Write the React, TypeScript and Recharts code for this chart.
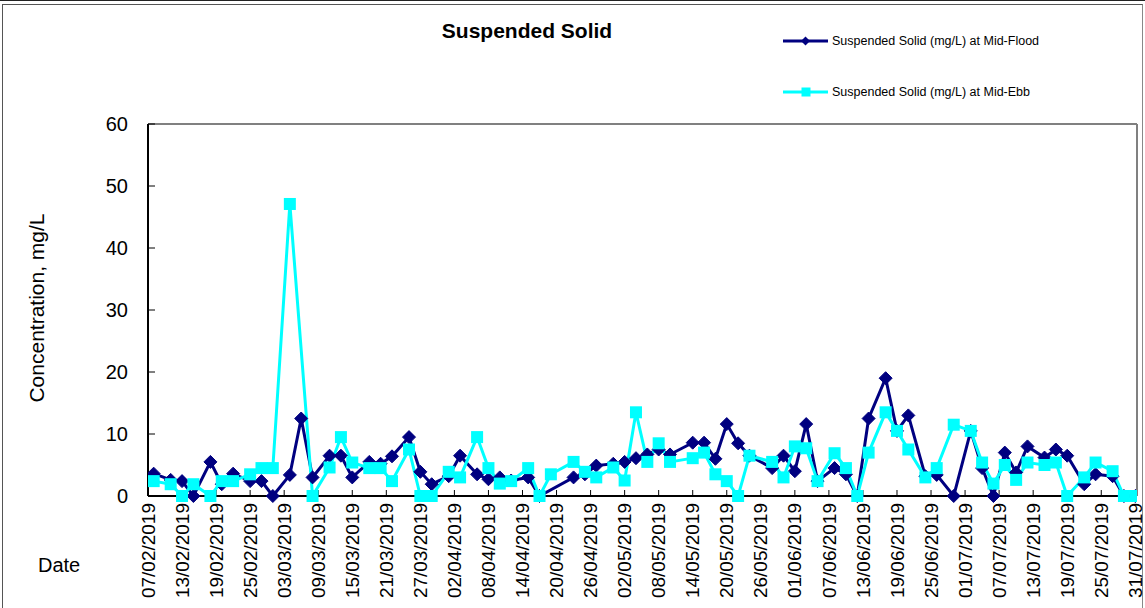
import React from 'react';
import { LineChart, Line, XAxis, YAxis, ReferenceLine } from 'recharts';

const floodDates = [
  '08/02/2019', '11/02/2019', '13/02/2019', '15/02/2019', '18/02/2019', '20/02/2019', '22/02/2019', '25/02/2019',
  '27/02/2019', '01/03/2019', '04/03/2019', '06/03/2019', '08/03/2019', '11/03/2019', '13/03/2019', '15/03/2019',
  '18/03/2019', '20/03/2019', '22/03/2019', '25/03/2019', '27/03/2019', '29/03/2019', '01/04/2019', '03/04/2019',
  '06/04/2019', '08/04/2019', '10/04/2019', '12/04/2019', '15/04/2019', '17/04/2019', '23/04/2019', '25/04/2019',
  '27/04/2019', '30/04/2019', '02/05/2019', '04/05/2019', '06/05/2019', '08/05/2019', '10/05/2019', '14/05/2019',
  '16/05/2019', '18/05/2019', '20/05/2019', '22/05/2019', '24/05/2019', '28/05/2019', '30/05/2019', '01/06/2019',
  '03/06/2019', '05/06/2019', '08/06/2019', '10/06/2019', '12/06/2019', '14/06/2019', '17/06/2019', '19/06/2019',
  '21/06/2019', '24/06/2019', '26/06/2019', '29/06/2019', '02/07/2019', '04/07/2019', '06/07/2019', '08/07/2019',
  '10/07/2019', '12/07/2019', '15/07/2019', '17/07/2019', '19/07/2019', '22/07/2019', '24/07/2019', '27/07/2019',
  '29/07/2019', '31/07/2019',
];
const floodValues = [
  3.6, 2.6, 2.4, 0, 5.5, 1.9, 3.6, 2.4,
  2.4, 0, 3.4, 12.5, 3.0, 6.5, 6.5, 3.0,
  5.5, 5.2, 6.4, 9.5, 3.9, 1.9, 3.2, 6.5,
  3.5, 2.7, 3.0, 2.5, 3.0, 0, 3.0, 3.5,
  4.9, 5.2, 5.5, 6.1, 6.7, 7.5, 6.7, 8.6,
  8.6, 6.0, 11.6, 8.5, 6.5, 4.5, 6.5, 4.0,
  11.6, 2.4, 4.5, 3.5, 0, 12.5, 19.0, 10.5,
  13.0, 3.2, 3.4, 0, 10.5, 4.5, 0, 7.0,
  3.8, 8.0, 6.2, 7.5, 6.5, 1.9, 3.5, 3.2,
  0, 0,
];

const ebbDates = [
  '08/02/2019', '11/02/2019', '13/02/2019', '15/02/2019', '18/02/2019', '20/02/2019', '22/02/2019', '25/02/2019',
  '27/02/2019', '01/03/2019', '04/03/2019', '08/03/2019', '11/03/2019', '13/03/2019', '15/03/2019', '18/03/2019',
  '20/03/2019', '22/03/2019', '25/03/2019', '27/03/2019', '29/03/2019', '01/04/2019', '03/04/2019', '06/04/2019',
  '08/04/2019', '10/04/2019', '12/04/2019', '15/04/2019', '17/04/2019', '19/04/2019', '23/04/2019', '25/04/2019',
  '27/04/2019', '30/04/2019', '02/05/2019', '04/05/2019', '06/05/2019', '08/05/2019', '10/05/2019', '14/05/2019',
  '16/05/2019', '18/05/2019', '20/05/2019', '22/05/2019', '24/05/2019', '28/05/2019', '30/05/2019', '01/06/2019',
  '03/06/2019', '05/06/2019', '08/06/2019', '10/06/2019', '12/06/2019', '14/06/2019', '17/06/2019', '19/06/2019',
  '21/06/2019', '24/06/2019', '26/06/2019', '29/06/2019', '02/07/2019', '04/07/2019', '06/07/2019', '08/07/2019',
  '10/07/2019', '12/07/2019', '15/07/2019', '17/07/2019', '19/07/2019', '22/07/2019', '24/07/2019', '27/07/2019',
  '29/07/2019', '31/07/2019',
];
const ebbValues = [
  2.4, 1.9, 0, 1.9, 0, 2.4, 2.4, 3.5,
  4.5, 4.5, 47.1, 0, 4.6, 9.5, 5.4, 4.5,
  4.5, 2.4, 7.5, 0, 0, 3.9, 3.0, 9.5,
  4.5, 2.0, 2.4, 4.5, 0, 3.5, 5.5, 3.9,
  3.0, 4.6, 2.5, 13.5, 5.5, 8.5, 5.5, 6.1,
  7.0, 3.5, 2.4, 0, 6.5, 5.5, 3.0, 8.0,
  7.7, 2.4, 6.9, 4.5, 0, 7.0, 13.5, 10.5,
  7.5, 3.0, 4.5, 11.5, 10.5, 5.4, 2.0, 5.0,
  2.6, 5.4, 5.0, 5.4, 0, 3.0, 5.4, 4.0,
  0, 0,
];

const xTickLabels = [
  '07/02/2019', '13/02/2019', '19/02/2019', '25/02/2019', '03/03/2019', '09/03/2019', '15/03/2019', '21/03/2019',
  '27/03/2019', '02/04/2019', '08/04/2019', '14/04/2019', '20/04/2019', '26/04/2019', '02/05/2019', '08/05/2019',
  '14/05/2019', '20/05/2019', '26/05/2019', '01/06/2019', '07/06/2019', '13/06/2019', '19/06/2019', '25/06/2019',
  '01/07/2019', '07/07/2019', '13/07/2019', '19/07/2019', '25/07/2019', '31/07/2019',
];
const yTicks = [0, 10, 20, 30, 40, 50, 60];

const FONT = '"Liberation Sans", Arial, sans-serif';
const FLOOD_COLOR = '#000080';
const EBB_COLOR = '#00FFFF';
const FLOOD_NAME = 'Suspended Solid (mg/L) at Mid-Flood';
const EBB_NAME = 'Suspended Solid (mg/L) at Mid-Ebb';

const toDay = (s: string) => {
  const [d, m, y] = s.split('/').map(Number);
  const base = Date.UTC(2019, 1, 7);
  return Math.round((Date.UTC(y, m - 1, d) - base) / 86400000);
};

const floodData = floodDates.map((d, i) => ({ x: toDay(d), y: floodValues[i] }));
const ebbData = ebbDates.map((d, i) => ({ x: toDay(d), y: ebbValues[i] }));
const xTicks = xTickLabels.map(toDay);
const labelByDay: Record<number, string> = {};
xTickLabels.forEach((l) => { labelByDay[toDay(l)] = l; });

const Diamond = (props: any) => {
  const { cx, cy, index } = props;
  if (cx == null || cy == null) return <g key={`fd-${index}`} />;
  const r = 6.5;
  return (
    <path
      key={`fd-${index}`}
      d={`M${cx},${cy - r}L${cx + r},${cy}L${cx},${cy + r}L${cx - r},${cy}Z`}
      fill={FLOOD_COLOR}
      stroke={FLOOD_COLOR}
      strokeWidth={1}
    />
  );
};

const Square = (props: any) => {
  const { cx, cy, index } = props;
  if (cx == null || cy == null) return <g key={`es-${index}`} />;
  const s = 12;
  return <rect key={`es-${index}`} x={cx - s / 2} y={cy - s / 2} width={s} height={s} fill={EBB_COLOR} />;
};

const XTick = (props: any) => {
  const { x, y, payload } = props;
  return (
    <text
      x={x}
      y={y}
      transform={`rotate(-90, ${x}, ${y})`}
      textAnchor="end"
      dy="0.35em"
      fontSize={19}
      fontFamily={FONT}
      fill="#000"
    >
      {labelByDay[payload.value] ?? ''}
    </text>
  );
};

const LegendBox = () => {
  const items = [
    { name: FLOOD_NAME, color: FLOOD_COLOR, shape: 'diamond' },
    { name: EBB_NAME, color: EBB_COLOR, shape: 'square' },
  ];
  return (
    <div style={{ position: 'absolute', left: 781, top: 34, fontFamily: FONT }}>
      {items.map((it, i) => (
        <div key={it.name} style={{ display: 'flex', alignItems: 'center', height: 14, marginTop: i === 0 ? 0 : 37 }}>
          <svg width={48} height={14} style={{ display: 'block' }}>
            <line x1={2} y1={7} x2={47} y2={7} stroke={it.color} strokeWidth={3} />
            {it.shape === 'diamond' ? (
              <path d="M24.5,2.5L29,7L24.5,11.5L20,7Z" fill={it.color} />
            ) : (
              <rect x={20.5} y={2.5} width={9} height={9} fill={it.color} />
            )}
          </svg>
          <span style={{ fontSize: 12.5, color: '#000', marginLeft: 3, whiteSpace: 'nowrap' }}>{it.name}</span>
        </div>
      ))}
    </div>
  );
};

export default function App() {
  return (
    <div style={{ position: 'absolute', left: 0, top: 0, width: 1145, height: 608, background: '#fff', overflow: 'hidden' }}>
      <div style={{ position: 'absolute', left: 0, top: 0, width: 1145, height: 1, background: '#222' }} />
      <div
        style={{
          position: 'absolute', left: 2, top: 4, width: 1139, height: 620,
          borderTop: '1px solid #555', borderLeft: '1px solid #555', borderRight: '1px solid #888',
        }}
      />
      <div
        style={{
          position: 'absolute', left: 0, width: 1054, top: 18, textAlign: 'center',
          fontFamily: FONT, fontWeight: 'bold', fontSize: 21, color: '#000', lineHeight: '26px',
        }}
      >
        Suspended Solid
      </div>
      <div
        style={{
          position: 'absolute', left: 37, top: 308, transform: 'translate(-50%, -50%) rotate(-90deg)',
          fontFamily: FONT, fontSize: 21, color: '#000', whiteSpace: 'nowrap', lineHeight: '24px',
        }}
      >
        Concentration, mg/L
      </div>
      <div
        style={{
          position: 'absolute', left: 38, top: 553, fontFamily: FONT, fontSize: 20, color: '#000', lineHeight: '24px',
        }}
      >
        Date
      </div>
      <LegendBox />
      <div style={{ position: 'absolute', left: 0, top: 0 }}>
        <LineChart width={1145} height={608} margin={{ top: 124, right: 8, bottom: 0, left: 88 }}>
          <XAxis
            type="number"
            dataKey="x"
            domain={[0, 174.3]}
            allowDataOverflow
            ticks={xTicks}
            interval={0}
            height={112}
            tickSize={-6}
            tickMargin={13}
            tick={<XTick />}
            axisLine={{ stroke: '#000', strokeWidth: 2 }}
            tickLine={{ stroke: '#000', strokeWidth: 1 }}
          />
          <YAxis
            type="number"
            domain={[0, 60]}
            ticks={yTicks}
            interval={0}
            width={60}
            tickSize={-7}
            tickMargin={27}
            tick={{ fontSize: 20, fontFamily: FONT, fill: '#000' }}
            axisLine={{ stroke: '#000', strokeWidth: 2 }}
            tickLine={{ stroke: '#000', strokeWidth: 1 }}
          />
          <ReferenceLine y={60} stroke="#808080" strokeWidth={2} />
          <ReferenceLine x={174.3} stroke="#808080" strokeWidth={2} />
          <Line
            data={floodData}
            dataKey="y"
            name={FLOOD_NAME}
            stroke={FLOOD_COLOR}
            strokeWidth={3}
            dot={Diamond}
            activeDot={false}
            isAnimationActive={false}
          />
          <Line
            data={ebbData}
            dataKey="y"
            name={EBB_NAME}
            stroke={EBB_COLOR}
            strokeWidth={3}
            dot={Square}
            activeDot={false}
            isAnimationActive={false}
          />
        </LineChart>
      </div>
    </div>
  );
}
